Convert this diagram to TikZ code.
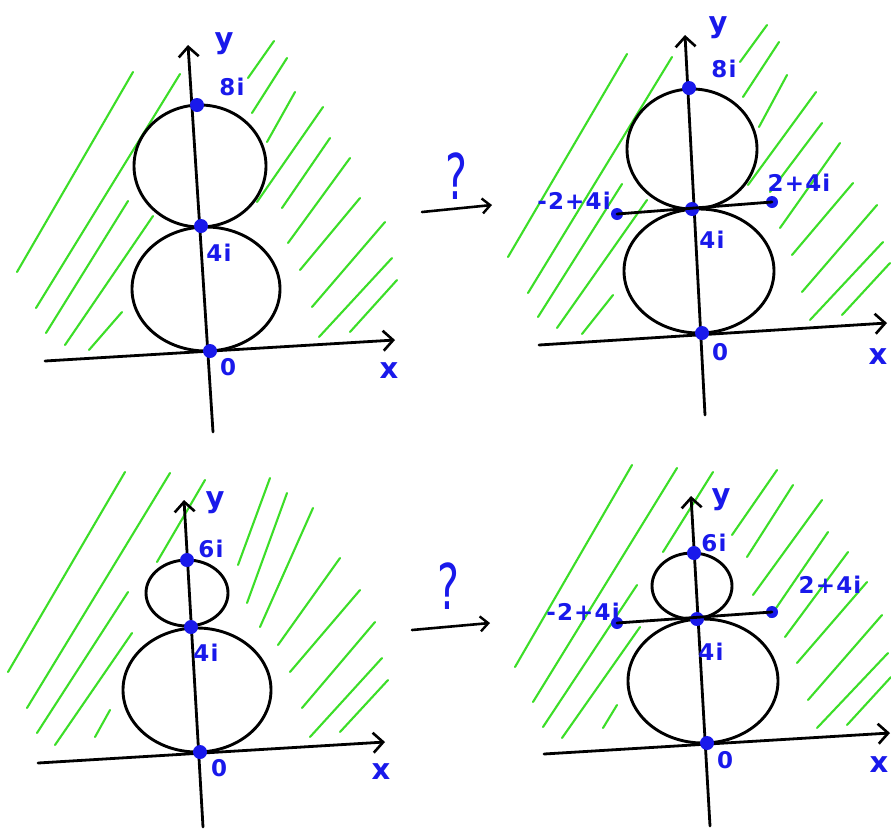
\documentclass[tikz,border=0pt]{standalone}
\usepackage{fontspec}
\newfontfamily\hand[LetterSpace=5]{DejaVu Sans}
\usetikzlibrary{arrows.meta}
\definecolor{ink}{RGB}{25,25,235}
\definecolor{hatchg}{RGB}{60,222,40}
\begin{document}
\begin{tikzpicture}[x=1pt,y=-1pt,
  axis/.style={line width=2.8pt,black,line cap=round,-{Straight Barb[length=10pt,width=20pt,line width=2.6pt]}},
  plain/.style={line width=2.8pt,black,line cap=round},
  curve/.style={line width=2.9pt,black},
  hatch/.style={line width=2.1pt,hatchg,line cap=round},
  dot/.style={circle,fill=ink,inner sep=0pt,minimum size=14pt},
  lbl/.style={text=ink,inner sep=0pt,font=\hand\bfseries\fontsize{23}{26}\selectfont},
  axlbl/.style={text=ink,inner sep=0pt,font=\hand\bfseries\fontsize{29}{32}\selectfont},
  qarrow/.style={line width=2.6pt,black,line cap=round,-{Straight Barb[length=8pt,width=15pt,line width=2.4pt]}},
  qmark/.style={text=ink,inner sep=0pt,font=\fontspec{DejaVu Sans}\fontsize{36}{38}\selectfont}]
\useasboundingbox (0,0) rectangle (891,828);
\fill[white] (0,0) rectangle (891,828);

% ---------------- hatching ----------------
\foreach \a/\b/\c/\d in {
  17/272/133/72, 36/308/180/74, 46/333/128/201, 65/345/153/216, 89/350/122/312,
  248/78/274/41, 252/113/287/58, 267/142/295/92, 257/202/323/107, 282/208/330/138,
  288/243/350/158, 300/270/360/198, 312/307/385/222, 319/337/392/258, 350/332/397/280,
  % top right
  508/257/627/54, 528/293/672/57, 538/317/622/184, 557/328/647/200, 582/334/613/295,
  740/62/767/25, 743/97/779/42, 759/127/787/75, 748/185/816/92, 770/192/822/123,
  780/228/840/143, 792/255/853/183, 802/292/877/205, 810/320/883/242, 842/315/890/263,
  % bottom left
  8/672/125/472, 27/708/170/473, 37/733/128/592, 55/745/132/633, 95/737/110/710,
  157/562/205/480,
  238/565/270/478, 247/603/287/493, 260/627/313/508, 278/645/340/558, 290/672/360/590,
  302/708/375/622, 310/737/382/658, 340/732/388/680,
  % bottom right
  515/667/632/465, 533/702/677/468, 543/727/637/585, 562/738/640/627, 603/728/617/705,
  663/552/713/472,
  732/535/777/470, 747/557/793/485, 753/595/822/500, 770/617/828/532, 785/637/848/552,
  797/663/867/582, 808/700/882/615, 817/728/888/653, 847/725/891/677}
  \draw[hatch] (\a,\b) -- (\c,\d);

% ---------------- panel top left ----------------
\coordinate (tlxs) at (45,361);  \coordinate (tlxe) at (395,340);
\coordinate (tlys) at (213,432); \coordinate (tlye) at (188,45);
\draw[axis] (tlxs) -- (tlxe);
\draw[axis] (tlys) -- (tlye);
\draw[curve] (200,166) ellipse [x radius=66,y radius=61];
\draw[curve] (206,289) ellipse [x radius=74,y radius=62];
\node[dot] (tlo) at (210,351) {};
\node[dot] (tla) at (201,226) {};
\node[dot] (tlb) at (197,105) {};
\node[axlbl] (tly) at (224,44) {y};
\node[lbl] (tl8) at (232,87) {8i};
\node[lbl] (tl4) at (219,253) {4i};
\node[lbl] (tl0) at (228,367) {0};
\node[axlbl] (tlx) at (389,371) {x};

% ---------------- panel top right ----------------
\coordinate (trxs) at (539,345); \coordinate (trxe) at (887,323);
\coordinate (trys) at (705,415); \coordinate (trye) at (685,35);
\draw[axis] (trxs) -- (trxe);
\draw[axis] (trys) -- (trye);
\draw[curve] (692,149) ellipse [x radius=65,y radius=60];
\draw[curve] (699,271) ellipse [x radius=75,y radius=62];
\node[dot] (tro) at (702,333) {};
\node[dot] (tra) at (692,209) {};
\node[dot] (trb) at (689,88) {};
\node[dot,minimum size=12pt] (trm) at (617,214) {};
\node[dot,minimum size=12pt] (trp) at (772,202) {};
\draw[plain] (trm.center) -- (trp.center);
\node[axlbl] (try) at (718,28) {y};
\node[lbl] (tr8) at (724,69) {8i};
\node[lbl] (tr4) at (712,240) {4i};
\node[lbl] (tr0) at (720,352) {0};
\node[axlbl] (trx) at (878,357) {x};
\node[lbl] (trml) at (574,201) {-2+4i};
\node[lbl] (trpl) at (799,183) {2+4i};

% ---------------- panel bottom left ----------------
\coordinate (blxs) at (38,763);  \coordinate (blxe) at (385,742);
\coordinate (blys) at (203,827); \coordinate (blye) at (184,500);
\draw[axis] (blxs) -- (blxe);
\draw[axis] (blys) -- (blye);
\draw[curve] (187,593) ellipse [x radius=41,y radius=33];
\draw[curve] (197,690) ellipse [x radius=74,y radius=62];
\node[dot] (blo) at (200,752) {};
\node[dot] (bla) at (191,627) {};
\node[dot] (blb) at (187,560) {};
\node[axlbl] (bly) at (215,503) {y};
\node[lbl] (bl6) at (211,549) {6i};
\node[lbl] (bl4) at (206,653) {4i};
\node[lbl] (bl0) at (219,768) {0};
\node[axlbl] (blx) at (381,772) {x};

% ---------------- panel bottom right ----------------
\coordinate (brxs) at (544,754); \coordinate (brxe) at (890,733);
\coordinate (brys) at (710,826); \coordinate (brye) at (691,496);
\draw[axis] (brxs) -- (brxe);
\draw[axis] (brys) -- (brye);
\draw[curve] (692,586) ellipse [x radius=40,y radius=33];
\draw[curve] (703,681) ellipse [x radius=75,y radius=62];
\node[dot] (bro) at (707,743) {};
\node[dot] (bra) at (697,619) {};
\node[dot] (brb) at (694,553) {};
\node[dot,minimum size=12pt] (brm) at (617,623) {};
\node[dot,minimum size=12pt] (brp) at (772,612) {};
\draw[plain] (brm.center) -- (brp.center);
\node[axlbl] (bry) at (721,500) {y};
\node[lbl] (br6) at (714,543) {6i};
\node[lbl] (br4) at (711,652) {4i};
\node[lbl] (br0) at (725,760) {0};
\node[axlbl] (brx) at (879,765) {x};
\node[lbl] (brml) at (583,612) {-2+4i};
\node[lbl] (brpl) at (830,585) {2+4i};

% ---------------- question arrows ----------------
\coordinate (q1s) at (422,212); \coordinate (q1e) at (492,205);
\draw[qarrow] (q1s) -- (q1e);
\node[qmark] (q1) at (456,176) {\scalebox{1.15}[1.75]{?}};
\coordinate (q2s) at (412,630); \coordinate (q2e) at (490,623);
\draw[qarrow] (q2s) -- (q2e);
\node[qmark] (q2) at (448,586) {\scalebox{1.15}[1.75]{?}};
\end{tikzpicture}
\end{document}
